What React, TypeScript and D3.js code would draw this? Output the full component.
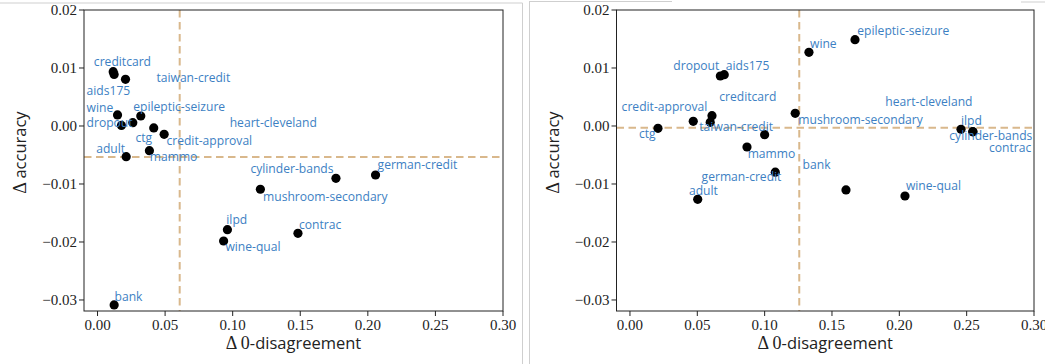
import React from "react";
import * as d3 from "d3";

// ---- Panel A: change in 0-disagreement vs change in accuracy ----
const namesA = [
  "creditcard", "aids175", "taiwan-credit", "wine", "dropout", "heart-cleveland",
  "epileptic-seizure", "ctg", "credit-approval", "mammo", "adult", "cylinder-bands",
  "german-credit", "mushroom-secondary", "ilpd", "contrac", "wine-qual", "bank",
];
const dDisagreeA = [
  0.0116, 0.0123, 0.0207, 0.0148, 0.0177, 0.0261, 0.032, 0.0416, 0.0493, 0.0384,
  0.0212, 0.1764, 0.2057, 0.1205, 0.0961, 0.1483, 0.0933, 0.0123,
];
const dAccuracyA = [
  0.00936, 0.00888, 0.00805, 0.0019, 0.0001, 0.00057, 0.00172, -0.00034, -0.00143,
  -0.00426, -0.00529, -0.00902, -0.00845, -0.01091, -0.01788, -0.0185, -0.01983, -0.03086,
];
// annotation anchors (data units, text start / baseline)
const labelXA = [
  -0.0027, -0.0081, 0.0436, -0.0081, -0.0081, 0.0978, 0.0264, 0.0281, 0.051, 0.0387,
  -0.001, 0.1131, 0.2072, 0.1225, 0.0953, 0.1491, 0.0946, 0.0126,
];
const labelYA = [
  0.0104, 0.00534, 0.00764, 0.00247, -0.00012, -0.00012, 0.00264, -0.00271, -0.00333,
  -0.00603, -0.0046, -0.00805, -0.00741, -0.01288, -0.01695, -0.01771, -0.0215, -0.03012,
];
const meanXA = 0.0608;
const meanYA = -0.00534;

// ---- Panel B ----
const namesB = [
  "wine", "epileptic-seizure", "dropout", "aids175", "creditcard", "credit-approval",
  "ctg", "taiwan-credit", "heart-cleveland", "mushroom-secondary", "mammo",
  "german-credit", "adult", "bank", "wine-qual", "ilpd", "cylinder-bands", "contrac",
];
const dDisagreeB = [
  0.1329, 0.1671, 0.0671, 0.07, 0.0609, 0.047, 0.0208, 0.0596, 0.1, 0.1227, 0.0869,
  0.1079, 0.0503, 0.1604, 0.2042, 0.2458, 0.2545, 0.2547,
];
const dAccuracyB = [
  0.01271, 0.01488, 0.00862, 0.00884, 0.00178, 0.00081, -0.0004, 0.00064, -0.0015,
  0.00219, -0.00362, -0.00797, -0.01264, -0.01103, -0.01207, -0.00057, -0.00098, -0.001,
];
const labelXB = [
  0.1337, 0.1688, 0.0322, 0.0711, 0.0663, -0.0062, 0.0067, 0.0515, 0.1896, 0.125,
  0.0874, 0.0532, 0.0438, 0.1282, 0.2049, 0.2458, 0.2371, 0.2666,
];
const labelYB = [
  0.0135, 0.01569, 0.00966, 0.00966, 0.00436, 0.00264, -0.00212, -0.00086, 0.00345,
  0.00034, -0.00547, -0.00948, -0.0119, -0.00736, -0.01103, 0.00017, -0.00241, -0.00448,
];
const meanXB = 0.1257;
const meanYB = -0.0003;

const xTicks = [0, 0.05, 0.1, 0.15, 0.2, 0.25, 0.3];
const yTicks = [0.02, 0.01, 0, -0.01, -0.02, -0.03];

const SERIF = "'Liberation Serif', 'DejaVu Serif', serif";
const SANS = "'Open Sans', 'Noto Sans', sans-serif";
const LABEL_BLUE = "#3d7fc3";
const MEAN_COLOR = "#d9b88c";

type PanelProps = {
  left: number;
  right: number;
  names: string[];
  xs: number[];
  ys: number[];
  lx: number[];
  ly: number[];
  mx: number;
  my: number;
};

function Panel({ left, right, names, xs, ys, lx, ly, mx, my }: PanelProps) {
  const top = 10;
  const bottom = 311;
  const x = d3.scaleLinear().domain([-0.01, 0.3]).range([left, right]);
  const y = d3.scaleLinear().domain([0.02, -0.0319]).range([top, bottom]);
  const fmt = (v: number) => d3.format(".2f")(v).replace("-", "\u2212");
  const clipId = `clip-${left}`;
  const cx = (left + right) / 2;
  return (
    <g>
      <defs>
        <clipPath id={clipId}>
          <rect x={left} y={top} width={right - left} height={bottom - top} />
        </clipPath>
      </defs>
      <g clipPath={`url(#${clipId})`}>
        <line x1={x(mx)} x2={x(mx)} y1={top} y2={bottom} stroke={MEAN_COLOR}
          strokeWidth={2} strokeDasharray="7.5,4.5" />
        <line x1={left} x2={right} y1={y(my)} y2={y(my)} stroke={MEAN_COLOR}
          strokeWidth={2} strokeDasharray="7.5,4.5" />
        {xs.map((v, i) => (
          <circle key={i} cx={x(v)} cy={y(ys[i])} r={4.6} fill="#000" />
        ))}
      </g>
      {names.map((n, i) => (
        <text key={n} x={x(lx[i])} y={y(ly[i])} fill={LABEL_BLUE}
          fontFamily={SANS} fontSize={12.1}>{n}</text>
      ))}
      <rect x={left} y={top} width={right - left} height={bottom - top}
        fill="none" stroke="#222" strokeWidth={1} />
      {xTicks.map((t) => (
        <g key={t}>
          <line x1={x(t)} x2={x(t)} y1={bottom} y2={bottom + 5} stroke="#222" />
          <text x={x(t)} y={330} textAnchor="middle" fontFamily={SERIF}
            fontSize={15} fill="#222">{fmt(t)}</text>
        </g>
      ))}
      {yTicks.map((t) => (
        <g key={t}>
          <line x1={left - 5} x2={left} y1={y(t)} y2={y(t)} stroke="#222" />
          <text x={left - 7} y={y(t) + 5} textAnchor="end" fontFamily={SERIF}
            fontSize={15} fill="#222">{fmt(t)}</text>
        </g>
      ))}
      <text x={cx} y={349} textAnchor="middle" fontSize={16.5} fill="#222">
        <tspan fontFamily={SERIF} fontSize={18}>{"\u0394 0"}</tspan>
        <tspan fontFamily={SANS}>-disagreement</tspan>
      </text>
      <text transform={`translate(${left - 58},${(top + bottom) / 2 - 8}) rotate(-90)`}
        textAnchor="middle" fontSize={16.5} fill="#222">
        <tspan fontFamily={SERIF} fontSize={18}>{"\u0394 "}</tspan>
        <tspan fontFamily={SANS}>accuracy</tspan>
      </text>
    </g>
  );
}

export default function App() {
  return (
    <div style={{ position: "absolute", left: 0, top: 0 }}>
      <svg width={1045} height={364} style={{ display: "block", background: "#fff" }}>
        {/* panel frames */}
        <line x1={0} x2={522.5} y1={3} y2={3} stroke="#cfcfcf" />
        <line x1={522.5} x2={522.5} y1={3} y2={364} stroke="#cfcfcf" />
        <line x1={529.5} x2={529.5} y1={1} y2={364} stroke="#cfcfcf" />
        <line x1={529.5} x2={672} y1={1.5} y2={1.5} stroke="#cfcfcf" />
        <line x1={1021} x2={1045} y1={2} y2={2} stroke="#cfcfcf" />
        <Panel left={84} right={503} names={namesA} xs={dDisagreeA} ys={dAccuracyA}
          lx={labelXA} ly={labelYA} mx={meanXA} my={meanYA} />
        <Panel left={616.5} right={1034} names={namesB} xs={dDisagreeB} ys={dAccuracyB}
          lx={labelXB} ly={labelYB} mx={meanXB} my={meanYB} />
      </svg>
    </div>
  );
}
